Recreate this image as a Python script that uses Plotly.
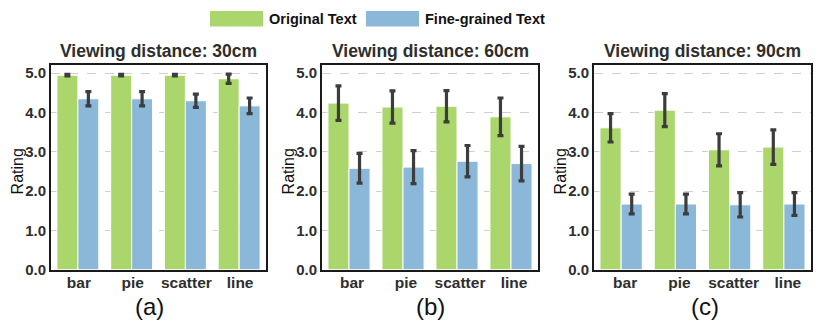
import plotly.graph_objects as go

# data
categories = ["bar", "pie", "scatter", "line"]
distances = ["30cm", "60cm", "90cm"]
panel_tags = ["(a)", "(b)", "(c)"]

original_30 = [4.95, 4.95, 4.95, 4.86]
original_30_err = [0.02, 0.02, 0.02, 0.12]
fine_30 = [4.35, 4.35, 4.30, 4.17]
fine_30_err = [0.18, 0.18, 0.17, 0.20]

original_60 = [4.24, 4.14, 4.16, 3.89]
original_60_err = [0.44, 0.41, 0.40, 0.48]
fine_60 = [2.58, 2.61, 2.76, 2.70]
fine_60_err = [0.38, 0.42, 0.40, 0.44]

original_90 = [3.61, 4.06, 3.05, 3.12]
original_90_err = [0.36, 0.42, 0.41, 0.44]
fine_90 = [1.67, 1.67, 1.65, 1.67]
fine_90_err = [0.25, 0.25, 0.31, 0.29]

yticks = [0, 1, 2, 3, 4, 5]

GREEN = "#aad66c"
BLUE = "#8bb7d9"
ERR = "#3d3d3d"
TXT = "#2e2e2e"
FONT = "Liberation Sans, Arial, sans-serif"
W, H = 830, 326

series = [
    (original_30, original_30_err, fine_30, fine_30_err),
    (original_60, original_60_err, fine_60, fine_60_err),
    (original_90, original_90_err, fine_90, fine_90_err),
]

# panel frames in px (left, right)
frames = [(43, 258), (314, 530), (586, 803)]
plot_top, plot_bot = 58, 268
label_shift = [1, 3, 4]

fig = go.Figure()

for i, (orig, orig_e, fine, fine_e) in enumerate(series):
    sx = "" if i == 0 else str(i + 1)
    for vals, errs, col, name in [(orig, orig_e, GREEN, "Original Text"),
                                  (fine, fine_e, BLUE, "Fine-grained Text")]:
        fig.add_trace(go.Bar(
            x=categories, y=vals, name=name,
            marker=dict(color=col, line=dict(color="white", width=1)),
            error_y=dict(type="data", array=errs, color=ERR, thickness=3.2, width=3),
            xaxis="x" + sx, yaxis="y" + sx, showlegend=False,
        ))

layout = dict(
    width=W, height=H,
    margin=dict(l=0, r=0, t=0, b=0),
    paper_bgcolor="white", plot_bgcolor="white",
    barmode="group", bargap=0.22, bargroupgap=0,
    font=dict(family=FONT, color=TXT),
    showlegend=False,
)

annotations = []
shapes = []
for i, (l, r) in enumerate(frames):
    sx = "" if i == 0 else str(i + 1)
    layout["xaxis" + sx] = dict(
        domain=[l / W, r / W], anchor="y" + sx,
        range=[-0.5, 3.5], showgrid=False,
        showline=True, linecolor="#1a1a1a", linewidth=2, mirror=True,
        ticks="", tickfont=dict(size=15.5, family=FONT, color=TXT, weight="bold"),
        ticklabelshift=label_shift[i], ticklabelstandoff=-2,
    )
    layout["yaxis" + sx] = dict(
        domain=[1 - plot_bot / H, 1 - plot_top / H], anchor="x" + sx,
        range=[0, 5.2], tickvals=yticks, tickformat=".1f",
        showgrid=True, gridcolor="#cfcfcf", griddash="dash", gridwidth=1,
        showline=True, linecolor="#1a1a1a", linewidth=2, mirror=True,
        zeroline=False, ticks="",
        tickfont=dict(size=15, family=FONT, color=TXT, weight="bold"),
    )
    cx = (l + r) / 2
    annotations.append(dict(
        x=cx / W, y=1 - 43 / H, xref="paper", yref="paper",
        text="<b>Viewing distance: %s</b>" % distances[i], showarrow=False,
        font=dict(size=17.5, family=FONT, color=TXT), xanchor="center", yanchor="middle",
    ))
    annotations.append(dict(
        x=(l - 34) / W, y=1 - 167 / H, xref="paper", yref="paper",
        text="Rating", textangle=-90, showarrow=False,
        font=dict(size=16, family=FONT, color="#111"), xanchor="center", yanchor="middle",
    ))
    tag_x = [141, 423, 697][i]
    annotations.append(dict(
        x=tag_x / W, y=1 - 306 / H, xref="paper", yref="paper",
        text=panel_tags[i], showarrow=False,
        font=dict(size=24, family=FONT, color="#111"), xanchor="center", yanchor="middle",
    ))

# legend at the top, drawn by hand for the wide swatches
for x0, col, name in [(202, GREEN, "Original Text"), (358, BLUE, "Fine-grained Text")]:
    shapes.append(dict(
        type="rect", xref="paper", yref="paper",
        x0=x0 / W, x1=(x0 + 53) / W, y0=1 - 18 / H, y1=1 - 2 / H,
        fillcolor=col, line=dict(width=0),
    ))
    annotations.append(dict(
        x=(x0 + 57) / W, y=1 - 10 / H, xref="paper", yref="paper",
        text="<b>%s</b>" % name, showarrow=False,
        font=dict(size=14.5, family=FONT, color="#111"), xanchor="left", yanchor="middle",
    ))

layout["annotations"] = annotations
layout["shapes"] = shapes
fig.update_layout(**layout)

fig.write_html("out.html")
